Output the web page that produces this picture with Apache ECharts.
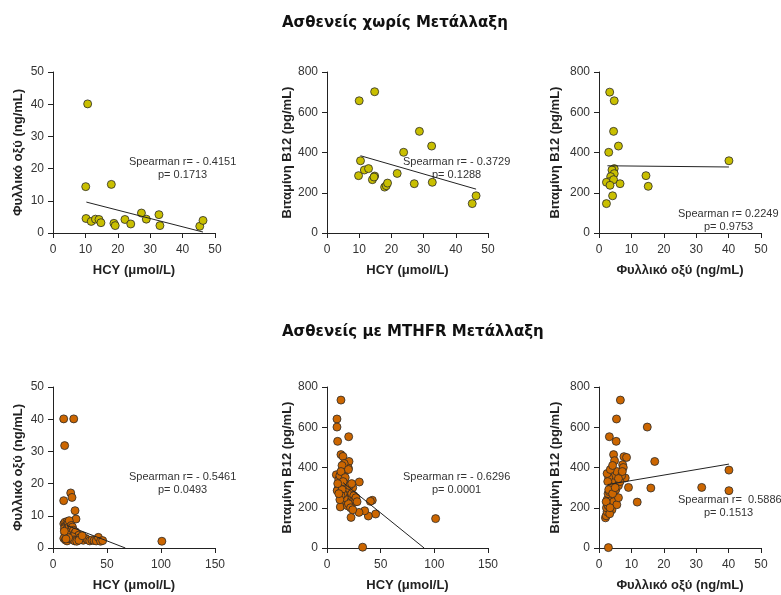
<!DOCTYPE html>
<html>
<head>
<meta charset="utf-8">
<title>chart</title>
<style>html,body{margin:0;padding:0;background:#fff;}</style>
</head>
<body>
<div id="graph" style="width:781px;height:595px;"></div>
<script src="https://cdn.jsdelivr.net/npm/echarts@6/dist/echarts.min.js"></script>
<script>
// Ασθενείς χωρίς Μετάλλαξη
const hcyFolateWt = [
  [10.7, 40.1], [10.1, 14.4], [18.0, 15.1], [10.2, 4.5], [11.8, 3.6], [13.1, 4.3],
  [14.2, 4.2], [14.8, 3.2], [18.8, 3.0], [19.2, 2.3], [22.2, 4.2], [24.0, 2.8],
  [27.3, 6.2], [28.8, 4.3], [32.7, 5.7], [33.0, 2.3], [45.3, 2.1], [46.3, 3.9]
];
const hcyB12Wt = [
  [10.0, 657], [14.8, 702], [10.4, 359], [9.8, 285], [11.6, 313], [12.9, 320],
  [14.8, 283], [14.1, 265], [14.6, 278], [17.9, 228], [18.4, 235], [18.8, 248],
  [21.8, 296], [23.8, 401], [28.7, 505], [27.1, 245], [32.5, 432], [32.7, 252],
  [45.1, 146], [46.3, 185]
];
const folateB12Wt = [
  [3.3, 700], [4.7, 657], [4.5, 505], [6.0, 432], [3.0, 401], [40.1, 359],
  [4.7, 320], [4.0, 313], [4.7, 295], [3.6, 280], [3.2, 255], [2.3, 252],
  [4.5, 265], [6.5, 245], [14.5, 285], [15.2, 232], [4.2, 185], [2.3, 146], [3.4, 237]
];
// Ασθενείς με MTHFR Μετάλλαξη
const hcyFolateMut = [
  [9.9, 40.1], [19.2, 40.1], [10.8, 31.8], [9.9, 14.7], [16.4, 17.1], [17.6, 15.7],
  [20.4, 11.6], [21.3, 9.0], [100.8, 2.1],
  [10, 7.5], [11, 8], [12, 7], [13, 8.2], [14, 7.8], [15, 8.5], [10.5, 6], [12, 5.5],
  [13.5, 6.2], [15, 6.5], [16, 5], [11, 4.5], [12.5, 3.5], [14, 4], [10, 3], [11.5, 2.5],
  [13, 2.2], [15, 3], [16.5, 2.8], [17, 7], [18, 6.5], [19, 5.5], [20, 4.5], [21, 5],
  [22, 3.5], [23, 2.8], [24, 4], [25, 3.2], [18, 3.5], [19.5, 2.5], [26, 2.6], [28, 2.4],
  [30, 3], [32, 2.6], [34, 2.2], [36, 2.5], [38, 2.3], [40, 2.2], [42, 3.3], [44, 2.1],
  [46, 2.3], [20, 2.2], [22, 2.1], [24, 2.4], [27, 3.8], [14.5, 3.2], [12, 2.8], [10.5, 5.2]
];
const hcyB12Mut = [
  [13.0, 735], [9.3, 641], [9.3, 601], [9.9, 530], [20.2, 553], [13.0, 464], [14.9, 455],
  [20.5, 430], [18.0, 389], [19.9, 397], [30.1, 328], [8.7, 364], [42.2, 237], [40.4, 232],
  [45.3, 169], [38.5, 159], [35.1, 185], [29.8, 177], [22.4, 152], [33.2, 4], [101.2, 146],
  [12.4, 204], [25.8, 228],
  [10, 290], [11, 300], [9.5, 285], [12, 320], [13, 350], [14, 370], [15, 400], [16, 420],
  [14, 410], [11, 340], [12, 360], [13, 380], [16, 330], [17, 310], [18, 300], [19, 280],
  [20, 260], [21, 250], [22, 240], [23, 270], [24, 300], [25, 260], [26, 240], [27, 250],
  [28, 230], [18, 230], [19, 210], [20, 220], [22, 200], [24, 190], [16, 250], [15, 270],
  [14, 290], [13, 260], [12, 240], [17, 350], [20, 390], [21, 310], [23, 320], [15, 330],
  [11, 270], [10, 320]
];
const folateB12Mut = [
  [6.6, 735], [5.4, 641], [14.9, 601], [3.2, 553], [5.3, 530], [4.5, 464], [7.7, 454],
  [8.5, 450], [17.2, 430], [4.8, 434], [7.3, 414], [40.1, 387], [40.1, 285], [31.7, 301],
  [16.0, 298], [9.1, 301], [11.8, 228], [8.1, 348], [2.9, 2],
  [2, 150], [2.2, 160], [2.5, 180], [2.3, 200], [2.8, 210], [3, 230], [2.5, 240], [3.5, 250],
  [2.8, 270], [3.2, 280], [3.8, 300], [4, 320], [4.5, 340], [5, 360], [5.5, 380], [3, 350],
  [2.5, 370], [3.5, 390], [4.2, 410], [4, 190], [3.7, 220], [4.8, 260], [5.2, 290], [6, 310],
  [6.5, 330], [7, 360], [7.5, 400], [4.5, 230], [5.5, 215], [3.3, 170], [2.7, 330], [6, 250],
  [7.2, 380], [2.2, 230], [3, 290], [4.2, 270], [3.4, 200], [5, 300], [6, 345]
];
// regression line end points
const fitLines = [
  [[10.3, 9.6], [46.3, 0.3]],
  [[10.4, 384], [46.3, 218]],
  [[2.6, 334], [40.1, 328]],
  [[13, 7.0], [67, 0]],
  [[15, 325], [90.5, 0]],
  [[2.6, 315], [40.1, 417]]
];
const statsText = [
  ['Spearman r= - 0.4151', 'p= 0.1713'],
  ['Spearman r= - 0.3729', 'p= 0.1288'],
  ['Spearman r= 0.2249', 'p= 0.9753'],
  ['Spearman r= - 0.5461', 'p= 0.0493'],
  ['Spearman r= - 0.6296', 'p= 0.0001'],
  ['Spearman r=  0.5886', 'p= 0.1513']
];
const groupTitles = ['Ασθενείς χωρίς Μετάλλαξη', 'Ασθενείς με MTHFR Μετάλλαξη'];
const xNames = ['HCY (μmol/L)', 'HCY (μmol/L)', 'Φυλλικό οξύ (ng/mL)'];
const yNames = ['Φυλλικό οξύ (ng/mL)', 'Βιταμίνη B12 (pg/mL)', 'Βιταμίνη B12 (pg/mL)'];

(function () {
  const chart = echarts.init(document.getElementById('graph'));
  const font = 'Liberation Sans, Arial, sans-serif';
  const panelData = [hcyFolateWt, hcyB12Wt, folateB12Wt, hcyFolateMut, hcyB12Mut, folateB12Mut];
  const lefts = [53, 327, 599];
  const widths = [162, 161, 162];
  const tops = [72, 387];
  const yGaps = [28, 29, 37];
  const colors = ['#c9bf00', '#cc6600'];

  const grid = [], xAxis = [], yAxis = [], series = [], graphic = [];
  for (let i = 0; i < 6; i++) {
    const row = Math.floor(i / 3), col = i % 3;
    grid.push({ left: lefts[col], top: tops[row], width: widths[col], height: 161 });
    const hcy150 = row === 1 && col < 2;
    xAxis.push({
      gridIndex: i, type: 'value', min: 0, max: hcy150 ? 150 : 50, interval: hcy150 ? 50 : 10,
      name: xNames[col], nameLocation: 'middle', nameGap: 31,
      nameTextStyle: { fontFamily: font, fontWeight: 'bold', fontSize: 13, color: '#222' },
      axisLine: { lineStyle: { color: '#222', width: 1 } },
      axisTick: { length: 5, lineStyle: { color: '#222' } },
      axisLabel: { fontFamily: font, fontSize: 12, color: '#333', margin: 11 },
      splitLine: { show: false }
    });
    const folateY = col === 0;
    yAxis.push({
      gridIndex: i, type: 'value', min: 0, max: folateY ? 50 : 800, interval: folateY ? 10 : 200,
      name: yNames[col], nameLocation: 'middle', nameGap: yGaps[col], nameRotate: 90,
      nameTextStyle: { fontFamily: font, fontWeight: 'bold', fontSize: 13, color: '#222' },
      axisLine: { show: true, lineStyle: { color: '#222', width: 1 } },
      axisTick: { show: true, length: 5, lineStyle: { color: '#222' } },
      axisLabel: { fontFamily: font, fontSize: 12, color: '#333', margin: 9 },
      splitLine: { show: false }
    });
    series.push({
      type: 'line', xAxisIndex: i, yAxisIndex: i, data: fitLines[i],
      symbol: 'none', lineStyle: { color: '#222', width: 1 }, z: 3, silent: true
    });
    series.push({
      type: 'scatter', xAxisIndex: i, yAxisIndex: i, data: panelData[i],
      symbolSize: 8, itemStyle: { color: colors[row], borderColor: '#2a2a2a', borderWidth: 0.8, opacity: 1 },
      z: 2
    });
    // stats annotation
    const rightCol = col === 2;
    const ty = rightCol ? (row ? 494 : 208) : (row ? 471 : 156);
    const tx = rightCol ? 729 : (col === 0 ? 183 : 457);
    graphic.push({
      type: 'text', left: rightCol ? 678 : tx - 54, top: ty,
      style: { text: statsText[i][0], font: '11px ' + font, fill: '#333' }
    });
    graphic.push({
      type: 'text', left: tx - 25, top: ty + 13,
      style: { text: statsText[i][1], font: '11px ' + font, fill: '#333' }
    });
  }

  chart.setOption({
    animation: false,
    title: groupTitles.map((t, k) => ({
      text: t, left: 277, top: k ? 320 : 11,
      textStyle: { fontFamily: 'DejaVu Sans', fontWeight: 'bold', fontSize: 15, color: '#111' }
    })),
    grid: grid, xAxis: xAxis, yAxis: yAxis, series: series, graphic: graphic
  });
})();
</script>
</body>
</html>
